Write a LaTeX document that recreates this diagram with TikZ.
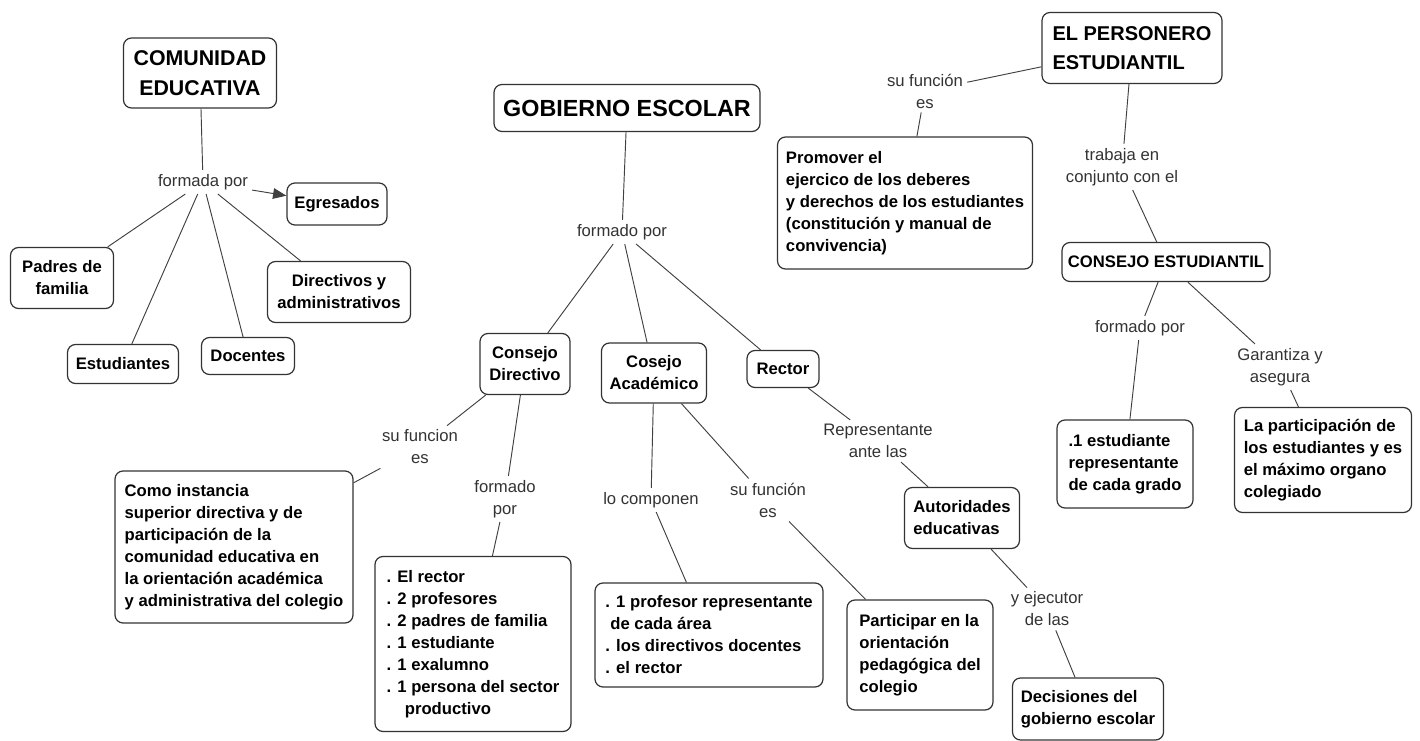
\documentclass[tikz,border=0pt]{standalone}
\usepackage{fontspec}
\setmainfont{Liberation Sans}
\usetikzlibrary{arrows.meta}

\begin{document}
\begin{tikzpicture}[x=0.75pt,y=-0.75pt,
        box/.style={draw=black!80,line width=0.9pt,rounded corners=6pt,fill=white,
            font=\bfseries\fontsize{12.5}{16.5}\selectfont,inner sep=0pt},
        title/.style={font=\bfseries\fontsize{#1}{22}\selectfont},
        bsize/.style 2 args={minimum width=#1*0.75pt,minimum height=#2*0.75pt},
        lbl/.style={font=\fontsize{12.5}{16.5}\selectfont,text=black!80,align=center,inner sep=3pt},
        link/.style={draw=black!75,line width=0.7pt}]
        %% Canvas
        \fill[white] (0,0) rectangle (1420,741);
        %% Comunidad educativa
        \node[box,title=16,bsize={153}{70},align=center] (comunidad) at (200,73) {COMUNIDAD\\EDUCATIVA};
        \node[lbl] (formadaPor) at (203,182) {formada por};
        \node[box,bsize={100}{42}] (egresados) at (337,204) {Egresados};
        \node[box,bsize={103}{61},align=center] (padres) at (62,278) {Padres de\\familia};
        \node[box,bsize={111}{39}] (estudiantes) at (123,364) {Estudiantes};
        \node[box,bsize={93}{37}] (docentes) at (248,356) {Docentes};
        \node[box,bsize={143}{61},align=center] (directivos) at (339,292) {Directivos y\\administrativos};
        \draw[link] (comunidad) -- (formadaPor);
        \draw[link,-{Triangle[length=10pt,width=8pt]}] (formadaPor) -- (egresados);
        \draw[link] (formadaPor) -- (padres);
        \draw[link] (formadaPor) -- (estudiantes);
        \draw[link] (formadaPor) -- (docentes);
        \draw[link] (formadaPor) -- (directivos);
        %% Gobierno escolar
        \node[box,title=17.5,bsize={266}{47}] (gobierno) at (627,108) {GOBIERNO ESCOLAR};
        \node[lbl] (formadoPor) at (622,232) {formado por};
        \node[box,bsize={90}{61},align=center] (cDirectivo) at (525,364) {Consejo\\Directivo};
        \node[box,bsize={105}{60},align=center] (cAcademico) at (654,373) {Cosejo\\Académico};
        \node[box,bsize={72}{37}] (rector) at (783,369) {Rector};
        \draw[link] (gobierno) -- (formadoPor);
        \draw[link] (formadoPor) -- (cDirectivo);
        \draw[link] (formadoPor) -- (cAcademico);
        \draw[link] (formadoPor) -- (rector);
        %% Consejo directivo
        \node[lbl] (suFuncionCD) at (420,447) {su funcion\\es};
        \node[box,bsize={238}{152},align=left] (instancia) at (234,547) {Como instancia\\superior directiva y de\\participación de la\\comunidad educativa en\\la orientación académica\\y administrativa del colegio};
        \node[lbl] (formadoPorCD) at (505,499) {formado\\por};
        \node[box,bsize={196}{175},align=left] (miembrosCD) at (473,644) {. El rector\\. 2 profesores\\. 2 padres de familia\\. 1 estudiante\\. 1 exalumno\\. 1 persona del sector\\\hspace*{1.1em}productivo};
        \draw[link] (cDirectivo) -- (suFuncionCD);
        \draw[link] (suFuncionCD) -- (instancia);
        \draw[link] (cDirectivo) -- (formadoPorCD);
        \draw[link] (formadoPorCD) -- (miembrosCD);
        %% Consejo academico
        \node[lbl] (loComponen) at (651,500) {lo componen};
        \node[box,bsize={228}{104},align=left] (miembrosCA) at (709,635) {. 1 profesor representante\\\hspace*{0.3em}de cada área\\. los directivos docentes\\. el rector};
        \node[lbl] (suFuncionCA) at (768,500) {su función\\es};
        \node[box,bsize={146}{110},align=left] (participar) at (920,655) {Participar en la\\orientación\\pedagógica del\\colegio};
        \draw[link] (cAcademico) -- (loComponen);
        \draw[link] (loComponen) -- (miembrosCA);
        \draw[link] (cAcademico) -- (suFuncionCA);
        \draw[link] (suFuncionCA) -- (participar);
        %% Rector
        \node[lbl] (representante) at (878,441) {Representante\\ante las};
        \node[box,bsize={115}{61},align=left] (autoridades) at (962,518) {Autoridades\\educativas};
        \node[lbl] (ejecutor) at (1047,609) {y ejecutor\\de las};
        \node[box,bsize={151}{62},align=left] (decisiones) at (1088,709) {Decisiones del\\gobierno escolar};
        \draw[link] (rector) -- (representante);
        \draw[link] (representante) -- (autoridades);
        \draw[link] (autoridades) -- (ejecutor);
        \draw[link] (ejecutor) -- (decisiones);
        %% Personero estudiantil
        \node[box,title=15,bsize={180}{71},align=left] (personero) at (1132,48) {EL PERSONERO\\ESTUDIANTIL};
        \node[lbl] (suFuncionPE) at (925,91) {su función\\es};
        \node[box,bsize={255}{132},align=left] (promover) at (905,203) {Promover el\\ejercico de los deberes\\y derechos de los estudiantes\\(constitución y manual de\\convivencia)};
        \node[lbl] (trabaja) at (1122,167) {trabaja en\\conjunto con el};
        \node[box,bsize={208}{39}] (cEstudiantil) at (1166,262) {CONSEJO ESTUDIANTIL};
        \draw[link] (personero) -- (suFuncionPE);
        \draw[link] (suFuncionPE) -- (promover);
        \draw[link] (personero) -- (trabaja);
        \draw[link] (trabaja) -- (cEstudiantil);
        %% Consejo estudiantil
        \node[lbl] (formadoPorCE) at (1140,328) {formado por};
        \node[box,bsize={136}{88},align=left] (representantes) at (1125,464) {.1 estudiante\\representante\\de cada grado};
        \node[lbl] (garantiza) at (1280,367) {Garantiza y\\asegura};
        \node[box,bsize={177}{105},align=left] (participacion) at (1323,460) {La participación de\\los estudiantes y es\\el máximo organo\\colegiado};
        \draw[link] (cEstudiantil) -- (formadoPorCE);
        \draw[link] (formadoPorCE) -- (representantes);
        \draw[link] (cEstudiantil) -- (garantiza);
        \draw[link] (garantiza) -- (participacion);
    \end{tikzpicture}
\end{document}
